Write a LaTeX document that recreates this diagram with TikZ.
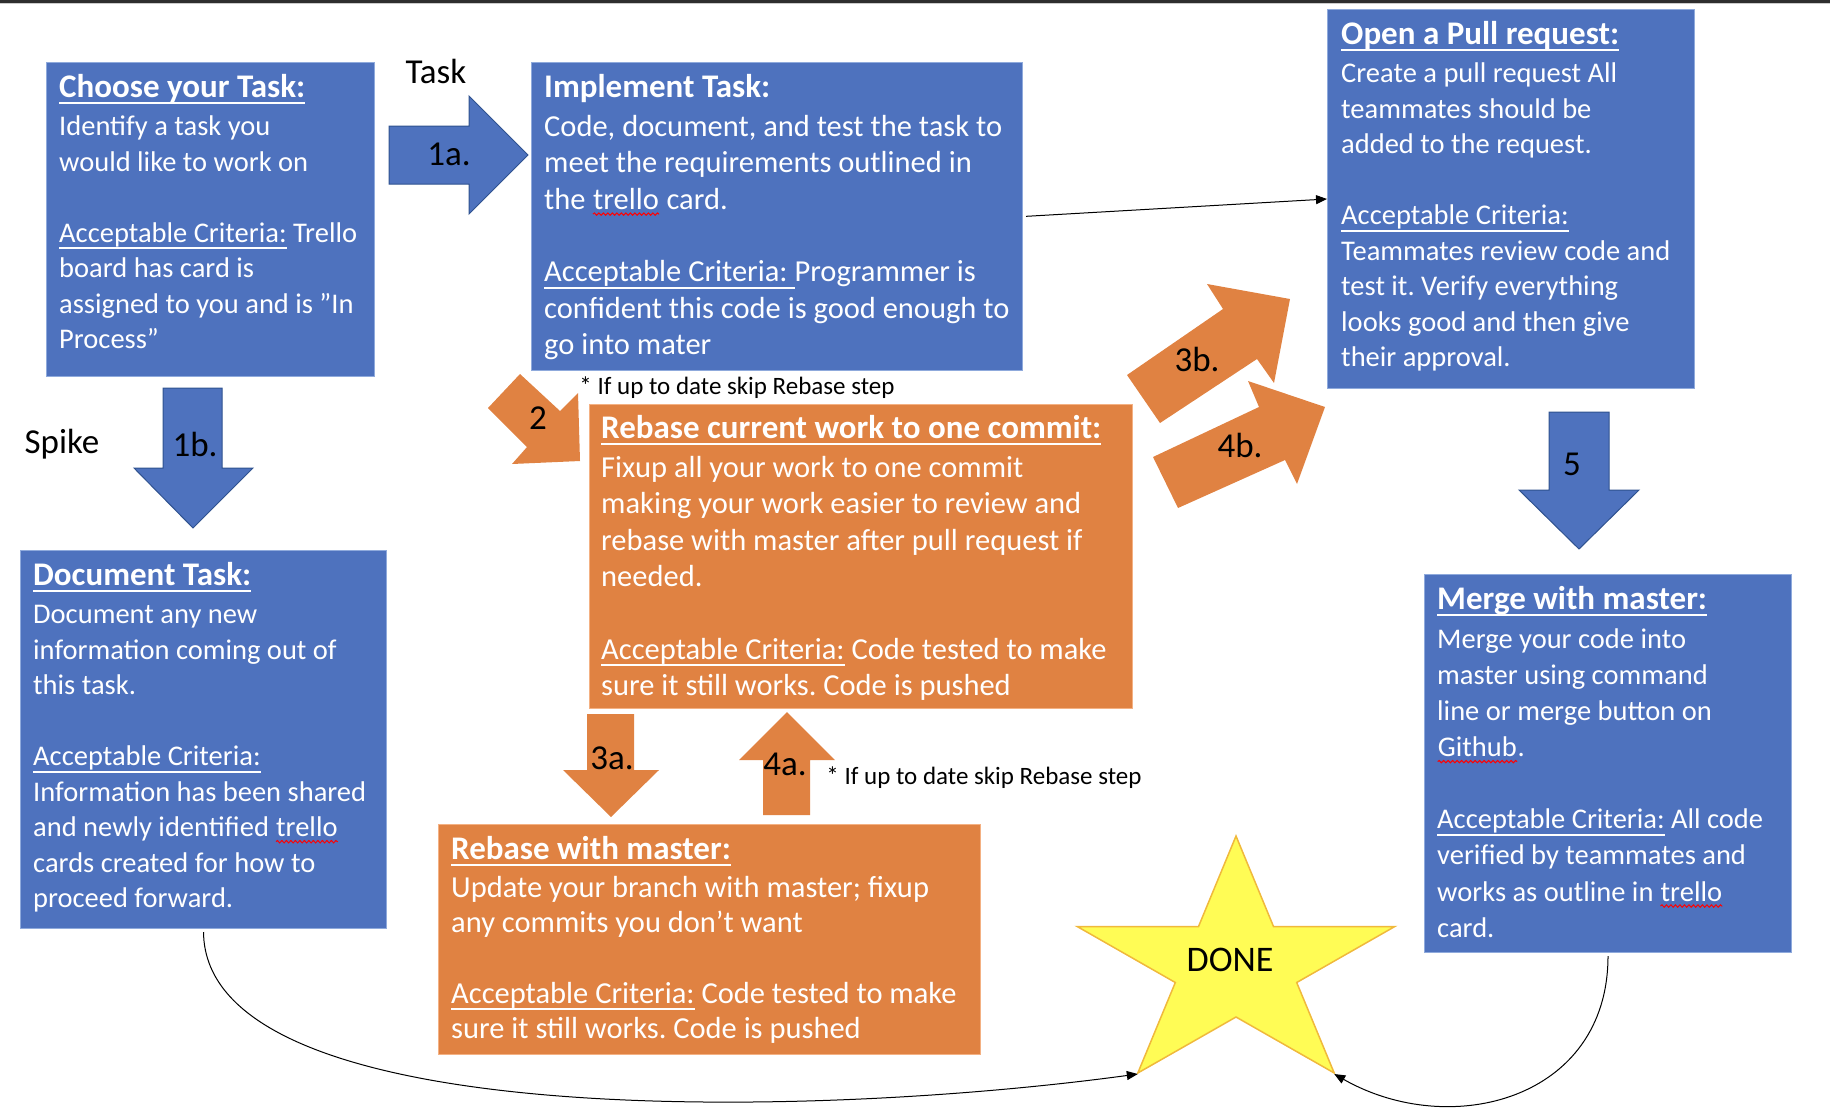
\documentclass[tikz,border=0pt]{standalone}
\usepackage{fontspec}
\setmainfont{Carlito}
\usepackage{xcolor}
\usetikzlibrary{arrows.meta, positioning, decorations.pathmorphing}

\definecolor{cardblue}{RGB}{78,114,190}
\definecolor{cardblueedge}{RGB}{143,170,220}
\definecolor{arrowblueedge}{RGB}{47,82,143}
\definecolor{cardorange}{RGB}{224,130,66}
\definecolor{cardorangeedge}{RGB}{244,177,131}
\definecolor{staryellow}{RGB}{255,252,85}
\definecolor{staredge}{RGB}{240,185,60}

\frenchspacing
\newcommand{\undl}[2][2pt]{\setbox0=\hbox{#2}\rlap{\rule[-7pt]{\wd0}{#1}}\box0}
\newcommand{\headfont}{\fontsize{33}{40}\selectfont\bfseries}
\newcommand{\cardhead}[1]{\rule{0pt}{26pt}{\headfont\undl[2.5pt]{#1}}}
\newcommand{\criteria}{\undl{Acceptable Criteria:}}
\newcommand{\spellmark}[1]{\tikz[baseline=(word.base)]{\node[inner sep=0pt] (word) {#1};
	\draw[red, line width=1pt, decorate, decoration={snake, amplitude=1.2pt, segment length=4.5pt}] ([yshift=-5pt]word.base west) -- ([yshift=-5pt]word.base east);}}

\begin{document}
\begin{tikzpicture}[x=1pt, y=-1pt,
		cardbox/.style={draw=cardblueedge, fill=cardblue, line width=1pt, anchor=north west, inner sep=0pt},
		rebasebox/.style={cardbox, draw=cardorangeedge, fill=cardorange},
		boxtext/.style={align=left, inner sep=0pt, text=white, font=\fontsize{28.5}{35.5}\selectfont},
		bigtext/.style={boxtext, font=\fontsize{30.5}{36.3}\selectfont},
		bluearrow/.style={fill=cardblue, draw=arrowblueedge, line width=1pt},
		orangearrow/.style={fill=cardorange},
		steplabel/.style={inner sep=0pt, font=\fontsize{35}{42}\selectfont},
		note/.style={inner sep=0pt, font=\fontsize{25}{30}\selectfont},
		link/.style={-{Triangle[length=11pt,width=9pt]}, line width=1pt}
	]

	\useasboundingbox (0,0) rectangle (1830,1114);
	\fill[black!82] (0,0) rectangle (1830,2.5);
	\fill[black!20] (0,2.5) rectangle (1830,3.5);

	% cards
	\node[cardbox, minimum width=328pt, minimum height=314pt] (choose) at (46,62) {};
	\node[boxtext, below right=9pt and 13pt of choose.north west] (choosetext) {\cardhead{Choose your Task:}\\[3pt]
		Identify a task you\\
		would like to work on\\[\baselineskip]
		\criteria{} Trello\\
		board has card is\\
		assigned to you and is ”In\\
		Process”};

	\node[cardbox, minimum width=491pt, minimum height=308pt] (implement) at (531,62) {};
	\node[bigtext, below right=9pt and 13pt of implement.north west] (implementtext) {\rule{0pt}{26pt}{\headfont Implement Task:}\\[3pt]
		Code, document, and test the task to\\
		meet the requirements outlined in\\
		the \spellmark{trello} card.\\[\baselineskip]
		\undl{Acceptable Criteria: }Programmer is\\
		confident this code is good enough to\\
		go into mater};

	\node[cardbox, minimum width=367pt, minimum height=379pt] (pullreq) at (1327,9) {};
	\node[boxtext, below right=9pt and 14pt of pullreq.north west] (pullreqtext) {\cardhead{Open a Pull request:}\\[3pt]
		Create a pull request All\\
		teammates should be\\
		added to the request.\\[\baselineskip]
		\criteria\\
		Teammates review code and\\
		test it. Verify everything\\
		looks good and then give\\
		their approval.};

	\node[rebasebox, minimum width=543pt, minimum height=304pt] (squash) at (589,404) {};
	\node[bigtext, below right=8pt and 12pt of squash.north west] (squashtext) {\cardhead{Rebase current work to one commit:}\\[3pt]
		Fixup all your work to one commit\\
		making your work easier to review and\\
		rebase with master after pull request if\\
		needed.\\[\baselineskip]
		\criteria{} Code tested to make\\
		sure it still works. Code is pushed};

	\node[cardbox, minimum width=366pt, minimum height=378pt] (document) at (20,550) {};
	\node[boxtext, below right=9pt and 13pt of document.north west] (documenttext) {\cardhead{Document Task:}\\[3pt]
		Document any new\\
		information coming out of\\
		this task.\\[\baselineskip]
		\criteria\\
		Information has been shared\\
		and newly identified \spellmark{trello}\\
		cards created for how to\\
		proceed forward.};

	\node[rebasebox, minimum width=542pt, minimum height=230pt] (rebase) at (438,824) {};
	\node[bigtext, font=\fontsize{30.5}{35.2}\selectfont, below right=9pt and 13pt of rebase.north west] (rebasetext) {\cardhead{Rebase with master:}\\[3pt]
		Update your branch with master; fixup\\
		any commits you don’t want\\[\baselineskip]
		\criteria{} Code tested to make\\
		sure it still works. Code is pushed};

	\node[cardbox, minimum width=367pt, minimum height=378pt] (merge) at (1424,574) {};
	\node[boxtext, font=\fontsize{28.5}{36.1}\selectfont, below right=9pt and 13pt of merge.north west] (mergetext) {\cardhead{Merge with master:}\\[3pt]
		Merge your code into\\
		master using command\\
		line or merge button on\\
		\spellmark{Github}.\\[\baselineskip]
		\criteria{} All code\\
		verified by teammates and\\
		works as outline in \spellmark{trello}\\
		card.};

	% block arrows
	\draw[bluearrow] (389,126) -- (469,126) -- (469,96) -- (528,155) -- (469,214) -- (469,184) -- (389,184) -- cycle;
	\draw[bluearrow] (163,388) -- (222,388) -- (222,468) -- (253,468) -- (193,528) -- (134,468) -- (163,468) -- cycle;
	\draw[bluearrow] (1549,412) -- (1609,412) -- (1609,490) -- (1639,490) -- (1579,549) -- (1519,490) -- (1549,490) -- cycle;
	\fill[orangearrow] (520,374) -- (488,408) -- (527,447) -- (512,464) -- (580,461) -- (578,393) -- (560,411) -- cycle;
	\fill[orangearrow] (587,714) -- (634,714) -- (634,770) -- (659,770) -- (611,817) -- (563,770) -- (587,770) -- cycle;
	\fill[orangearrow] (763,815) -- (810,815) -- (810,760) -- (835,760) -- (787,712) -- (739,760) -- (763,760) -- cycle;
	\fill[orangearrow] (1127,375) -- (1160,423) -- (1257,359) -- (1274,383) -- (1290,299) -- (1207,284) -- (1223,309) -- cycle;
	\fill[orangearrow] (1153,457) -- (1178,508) -- (1285,460) -- (1297,484) -- (1325,407) -- (1248,381) -- (1259,407) -- cycle;

	\node[steplabel] (task) at (436,71) {Task};
	\node[steplabel] (spike) at (62,444) {Spike};
	\node[steplabel] (label1a) at (449,154) {1a.};
	\node[steplabel] (label1b) at (195,444) {1b.};
	\node[steplabel] (label2) at (538,418) {2};
	\node[steplabel] (label3a) at (612,758) {3a.};
	\node[steplabel] (label4a) at (785,764) {4a.};
	\node[steplabel] (label3b) at (1197,359) {3b.};
	\node[steplabel] (label4b) at (1240,445) {4b.};
	\node[steplabel] (label5) at (1572,464) {5};

	\node[note] (skipnote) at (737,388) {* If up to date skip Rebase step};
	\node[note] (skipnote2) at (984,778) {* If up to date skip Rebase step};

	% done star
	\draw[fill=staryellow, draw=staredge, line width=1.5pt] (1236,836) -- (1273.5,926.5) -- (1394.8,926.5) -- (1296.7,982.5) -- (1334.2,1073) -- (1236,1017) -- (1137.8,1073) -- (1175.3,982.5) -- (1077.2,926.5) -- (1198.5,926.5) -- cycle;
	\node[steplabel, font=\fontsize{36}{42}\selectfont] (done) at (1230,960) {DONE};
	\coordinate (donebl) at (1137.8,1074);
	\coordinate (donebr) at (1334.2,1074);

	% connectors
	\draw[link, shorten <=3pt] (implement.east) -- (pullreq.west);
	\draw[link, shorten <=3pt] (document.south) .. controls (205,1130) and (800,1120) .. (donebl);
	\draw[link, shorten <=3pt] (merge.south) .. controls (1608,1100) and (1450,1140) .. (donebr);

\end{tikzpicture}
\end{document}
